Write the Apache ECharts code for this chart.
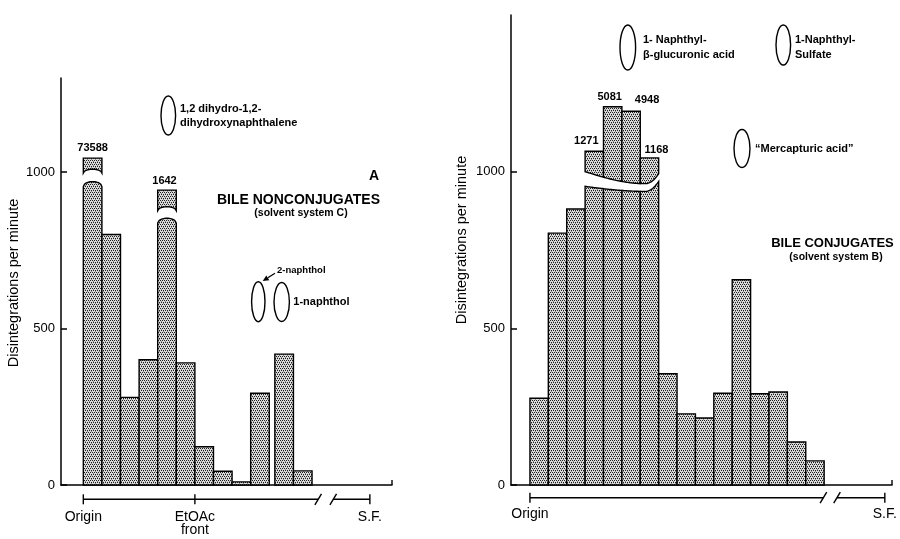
<!DOCTYPE html>
<html><head><meta charset="utf-8">
<script src="https://cdn.jsdelivr.net/npm/echarts@6/dist/echarts.min.js"></script>
<style>html,body{margin:0;padding:0;background:#fff}#c{width:900px;height:539px}</style>
</head><body><div id="c"></div>
<script>
// ---------- Panel A: bile nonconjugates (solvent system C) ----------
const leftPositions = [0, 1, 2, 3, 4, 5, 6, 7, 8, 9, 10.3, 11.3];      // fraction slot (left edge)
const leftHeights   = [1044, 800, 280, 400, 942, 390, 122, 44, 10, 293, 418, 45]; // drawn height (dpm)
const leftCounts    = ['73588', '', '', '', '1642', '', '', '', '', '', '', ''];
const leftBreakLow  = [953, null, null, null, 836, null, null, null, null, null, null, null];
const leftBreakHigh = [996, null, null, null, 876, null, null, null, null, null, null, null];
const leftScaleMarks  = [0, 6, 15.41];
const leftScaleLabels = ['Origin', 'EtOAc\nfront', 'S.F.'];
const leftScaleGap    = [12.63, 13.44];
const leftYMax = 1300;

// ---------- Panel B: bile conjugates (solvent system B) ----------
const rightPositions = [0, 1, 2, 3, 4, 5, 6, 7, 8, 9, 10, 11, 12, 13, 14, 15];
const rightHeights   = [277, 804, 881, 1065, 1207, 1193, 1044, 355, 227, 214, 293, 655, 291, 297, 137, 77];
const rightCounts    = ['', '', '', '1271', '5081', '4948', '1168', '', '', '', '', '', '', '', '', ''];
const rightBreakLow  = 953;
const rightBreakHigh = 1000;
const rightScaleMarks  = [0, 19.3];
const rightScaleLabels = ['Origin', 'S.F.'];
const rightScaleGap    = [15.96, 16.7];
const rightYMax = 1500;
const yStep = 500;

// ---------- layout / style ----------
const FONT = '"Liberation Sans", Arial, sans-serif';
const leftCountShift  = {0: [0, -10], 4: [-2.5, -9]};
const rightCountShift = {3: [-8, -10], 4: [-3, -10], 5: [16, -11], 6: [7, -7.5]};

function makePattern() {
  const c = document.createElement('canvas');
  c.width = 4; c.height = 4;
  const g = c.getContext('2d');
  g.fillStyle = '#dcdcdc'; g.fillRect(0, 0, 4, 4);
  g.fillStyle = '#1e1e1e';
  g.fillRect(0, 0, 1, 1); g.fillRect(2, 0, 1, 1);
  g.fillRect(1, 2, 1, 1); g.fillRect(3, 2, 1, 1);
  g.fillStyle = '#8a8a8a';
  g.fillRect(1, 1, 1, 1); g.fillRect(3, 3, 1, 1);
  return c;
}
const PATTERN = {image: makePattern(), repeat: 'repeat'};
const barStyle = () => ({fill: PATTERN, stroke: '#000', lineWidth: 1.4});

function arcUp(t) { return Math.sqrt(Math.max(0, 4 * t * (1 - t))); }
function wave(t, peak, end) {
  const tp = 0.82;
  if (t <= tp) return peak * Math.sin(Math.PI / 2 * t / tp);
  const u = (t - tp) / (1 - tp);
  return peak + (end - peak) * u * u;
}

function makeBarRenderer(pos, heights, counts, shifts, breakAt) {
  return function (params, api) {
    const i = params.dataIndex;
    const a = api.coord([pos[i], 0]);
    const b = api.coord([pos[i] + 1, 0]);
    const x0 = a[0], x1 = b[0], yb = a[1];
    const yt = api.coord([pos[i], heights[i]])[1];
    const kids = [];
    const br = breakAt(i, api, x0, x1);
    if (!br) {
      kids.push({type: 'rect', shape: {x: x0, y: yt, width: x1 - x0, height: yb - yt}, style: barStyle()});
    } else {
      const N = 16, low = [[x0, yb]], up = [[x0, yt], [x1, yt]];
      for (let k = 0; k <= N; k++) { const x = x0 + (x1 - x0) * k / N; low.push([x, br.lower(x)]); }
      low.push([x1, yb]);
      for (let k = N; k >= 0; k--) { const x = x0 + (x1 - x0) * k / N; up.push([x, br.upper(x)]); }
      kids.push({type: 'polygon', shape: {points: low}, style: barStyle()});
      kids.push({type: 'polygon', shape: {points: up}, style: barStyle()});
    }
    if (counts[i]) {
      const s = shifts[i] || [0, -10];
      kids.push({type: 'text', x: (x0 + x1) / 2 + s[0], y: yt + s[1],
        style: {text: counts[i], font: 'bold 11px ' + FONT, fill: '#000', align: 'center', verticalAlign: 'middle'}});
    }
    return {type: 'group', children: kids};
  };
}

function leftBreakAt(i, api, x0, x1) {
  if (leftBreakLow[i] == null) return null;
  const yl = api.coord([0, leftBreakLow[i]])[1];
  const yh = api.coord([0, leftBreakHigh[i]])[1];
  const t = x => (x - x0) / (x1 - x0);
  return {lower: x => yl - 5 * arcUp(t(x)), upper: x => yh - 4 * arcUp(t(x))};
}
const rFirst = rightCounts.findIndex(c => c);
const rLast = rightCounts.length - 1 - rightCounts.slice().reverse().findIndex(c => c);
function rightBreakAt(i, api) {
  if (i < rFirst || i > rLast) return null;
  const xL = api.coord([rightPositions[rFirst], 0])[0];
  const xR = api.coord([rightPositions[rLast] + 1, 0])[0];
  const yl = api.coord([0, rightBreakLow])[1];
  const yh = api.coord([0, rightBreakHigh])[1];
  const f = x => (x - xL) / (xR - xL);
  return {lower: x => yl + wave(f(x), 5, -5), upper: x => yh + wave(f(x), 12, 2)};
}

function makeScaleRenderer(marks, labels, gap, xMax, lineDrop, labelDrop) {
  return function (params, api) {
    const o = api.coord([0, 0]);
    const yA = o[1];
    const px = v => api.coord([v, 0])[0];
    const ln = {stroke: '#000', lineWidth: 1.4};
    const kids = [];
    const xe = px(xMax);
    kids.push({type: 'line', shape: {x1: xe, y1: yA, x2: xe, y2: yA - 5}, style: ln});
    const ly = yA + lineDrop;
    const g0 = px(gap[0]), g1 = px(gap[1]);
    kids.push({type: 'line', shape: {x1: px(marks[0]), y1: ly, x2: g0, y2: ly}, style: ln});
    kids.push({type: 'line', shape: {x1: g1, y1: ly, x2: px(marks[marks.length - 1]), y2: ly}, style: ln});
    [g0, g1].forEach(g => kids.push({type: 'line', shape: {x1: g - 3.3, y1: ly + 5.5, x2: g + 3.3, y2: ly - 5.5}, style: ln}));
    marks.forEach((m, k) => {
      const x = px(m);
      kids.push({type: 'line', shape: {x1: x, y1: ly - 5, x2: x, y2: ly + 5}, style: ln});
      kids.push({type: 'text', x: x, y: yA + labelDrop - 7,
        style: {text: labels[k], font: '14px ' + FONT, fill: '#000', align: 'center', verticalAlign: 'top', lineHeight: 13}});
    });
    return {type: 'group', children: kids};
  };
}

const axisLineStyle = {color: '#000', width: 1.5};
function xAxisCfg(grid, min, max) {
  return {gridIndex: grid, type: 'value', min: min, max: max,
    axisLine: {show: true, onZero: true, lineStyle: axisLineStyle},
    axisTick: {show: false}, axisLabel: {show: false}, splitLine: {show: false}};
}
function yAxisCfg(grid, max) {
  return {gridIndex: grid, type: 'value', min: 0, max: max, interval: yStep,
    axisLine: {show: true, onZero: false, lineStyle: axisLineStyle},
    axisTick: {show: true, inside: true, length: 6, lineStyle: axisLineStyle},
    axisLabel: {showMaxLabel: false, margin: 6, fontSize: 13, color: '#000', fontFamily: FONT,
      formatter: v => String(v)},
    splitLine: {show: false}};
}

function txt(x, y, text, font, align) {
  return {type: 'text', x: x, y: y, style: {text: text, font: font, fill: '#000', align: align || 'left', verticalAlign: 'middle'}};
}
function ell(cx, cy, rx, ry) {
  return {type: 'ellipse', shape: {cx: cx, cy: cy, rx: rx, ry: ry}, style: {fill: 'transparent', stroke: '#000', lineWidth: 1.4}};
}
function arrow(x1, y1, x2, y2) {
  const dx = x2 - x1, dy = y2 - y1, L = Math.hypot(dx, dy), ux = dx / L, uy = dy / L;
  const bx = x2 - ux * 6, by = y2 - uy * 6;
  return [
    {type: 'line', shape: {x1: x1, y1: y1, x2: bx, y2: by}, style: {stroke: '#000', lineWidth: 1.3}},
    {type: 'polygon', shape: {points: [[x2, y2], [bx - uy * 2.8, by + ux * 2.8], [bx + uy * 2.8, by - ux * 2.8]]}, style: {fill: '#000'}}
  ];
}
const B11 = 'bold 11px ' + FONT;
const graphics = [
  {type: 'text', x: 13.5, y: 283, rotation: Math.PI / 2, style: {text: 'Disintegrations per minute', font: '14.5px ' + FONT, fill: '#000', align: 'center', verticalAlign: 'middle'}},
  {type: 'text', x: 462, y: 240, rotation: Math.PI / 2, style: {text: 'Disintegrations per minute', font: '14.5px ' + FONT, fill: '#000', align: 'center', verticalAlign: 'middle'}},
  ell(168.3, 115.5, 7.3, 19.5),
  txt(180, 109, '1,2 dihydro-1,2-', B11),
  txt(180, 123.3, 'dihydroxynaphthalene', B11),
  txt(374, 176, 'A', 'bold 14px ' + FONT, 'center'),
  txt(298.5, 200, 'BILE NONCONJUGATES', 'bold 14px ' + FONT, 'center'),
  txt(301, 213.5, '(solvent system C)', 'bold 10.5px ' + FONT, 'center'),
  txt(277, 270.7, '2-naphthol', 'bold 9.5px ' + FONT),
  ...arrow(275, 273.3, 262.7, 281),
  ell(258.3, 301.7, 6.7, 20),
  ell(281.7, 302, 7.7, 19.5),
  txt(293.3, 301.7, '1-naphthol', B11),
  ell(627.8, 47.5, 7.8, 22.5),
  txt(643, 40, '1- Naphthyl-', B11),
  txt(643, 55, 'β-glucuronic acid', B11),
  ell(783.3, 45, 7.3, 20),
  txt(795, 40, '1-Naphthyl-', B11),
  txt(795, 55, 'Sulfate', B11),
  ell(742, 148.5, 8, 19),
  txt(755, 148.5, '\u201CMercapturic acid\u201D', B11),
  txt(832.5, 243, 'BILE CONJUGATES', 'bold 13px ' + FONT, 'center'),
  txt(836, 257, '(solvent system B)', 'bold 10.5px ' + FONT, 'center')
];

const leftXMin = -1.2, leftXMax = 16.6, rightXMin = -1.03, rightXMax = 19.69;
const chart = echarts.init(document.getElementById('c'), null, {renderer: 'canvas'});
chart.setOption({
  animation: false,
  backgroundColor: '#fff',
  grid: [{left: 61, top: 78, width: 331, height: 407}, {left: 511, top: 15, width: 381, height: 470}],
  xAxis: [xAxisCfg(0, leftXMin, leftXMax), xAxisCfg(1, rightXMin, rightXMax)],
  yAxis: [yAxisCfg(0, leftYMax), yAxisCfg(1, rightYMax)],
  series: [
    {type: 'custom', xAxisIndex: 0, yAxisIndex: 0, clip: false, z: 3, encode: {x: 0, y: 1},
      data: leftPositions.map((p, i) => [p + 0.5, leftHeights[i]]),
      renderItem: makeBarRenderer(leftPositions, leftHeights, leftCounts, leftCountShift, leftBreakAt)},
    {type: 'custom', xAxisIndex: 1, yAxisIndex: 1, clip: false, z: 3, encode: {x: 0, y: 1},
      data: rightPositions.map((p, i) => [p + 0.5, rightHeights[i]]),
      renderItem: makeBarRenderer(rightPositions, rightHeights, rightCounts, rightCountShift, rightBreakAt)},
    {type: 'custom', xAxisIndex: 0, yAxisIndex: 0, clip: false, z: 3, encode: {x: 0, y: 1},
      data: [[0, 0]],
      renderItem: makeScaleRenderer(leftScaleMarks, leftScaleLabels, leftScaleGap, leftXMax, 14.3, 32.3)},
    {type: 'custom', xAxisIndex: 1, yAxisIndex: 1, clip: false, z: 3, encode: {x: 0, y: 1},
      data: [[0, 0]],
      renderItem: makeScaleRenderer(rightScaleMarks, rightScaleLabels, rightScaleGap, rightXMax, 12.7, 30)}
  ],
  graphic: graphics
});
</script>
</body></html>
